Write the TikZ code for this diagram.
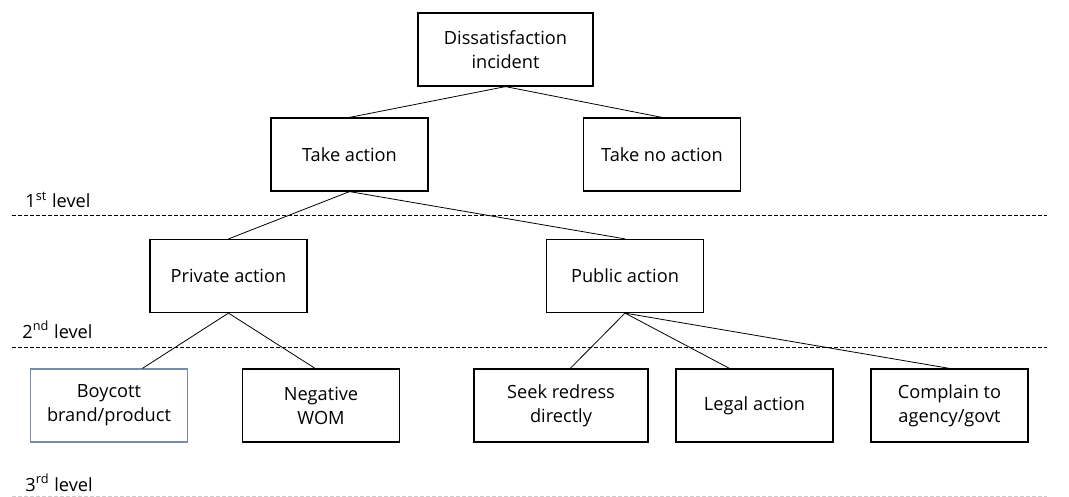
\documentclass[tikz,border=0pt]{standalone}
\usepackage{fontspec}
\setmainfont{Open Sans}
\definecolor{boxblue}{RGB}{120,140,165}
\begin{document}
\begin{tikzpicture}[x=0.5pt,y=-0.5pt,
    box/.style={draw,line width=0.6pt,minimum width=78.5pt,minimum height=36.5pt,
      align=center,font=\fontsize{9.1}{12}\selectfont,inner sep=0pt},
    lvl/.style={anchor=west,font=\fontsize{9.1}{10}\selectfont,inner sep=0pt},
    sep/.style={dashed,dash pattern=on 2pt off 1pt,line width=0.4pt}]
    \useasboundingbox (0,0) rectangle (1069,497);
    \node[box,minimum width=87.5pt] (dis) at (505.5,49.5) {Dissatisfaction\\incident};
    \node[box] (take) at (349.5,154.5) {Take action};
    \node[box] (noact) at (662,154.5) {Take no action};
    \node[box] (priv) at (228.5,276) {Private action};
    \node[box] (pub) at (625,276) {Public action};
    \node[box,draw=boxblue] (boy) at (109,405.5) {Boycott\\brand/product};
    \node[box] (neg) at (321,405.5) {Negative\\WOM};
    \node[box,minimum width=87pt] (seek) at (561,405.5) {Seek redress\\directly};
    \node[box] (legal) at (754.5,405.5) {Legal action};
    \node[box] (comp) at (949.5,405.5) {Complain to\\agency/govt};
    \draw (dis.south) -- (take.north);
    \draw (dis.south) -- (noact.north);
    \draw (take.south) -- (priv.north);
    \draw (take.south) -- (pub.north);
    \draw (priv.south) -- (boy.48);
    \draw (priv.south) -- (neg.99);
    \draw (pub.south) -- (seek.76);
    \draw (pub.south) -- (legal.124);
    \draw (pub.south) -- (comp.north);
    \node[lvl] (l1) at (25,200) {1\textsuperscript{st} level};
    \node[lvl] (l2) at (22,330) {2\textsuperscript{nd} level};
    \node[lvl] (l3) at (25,483) {3\textsuperscript{rd} level};
    \draw[sep] (12,215) -- (1047,215);
    \draw[sep] (12,347) -- (1047,347);
    \draw[sep,gray!40] (12,496.5) -- (1047,496.5);
\end{tikzpicture}
\end{document}
